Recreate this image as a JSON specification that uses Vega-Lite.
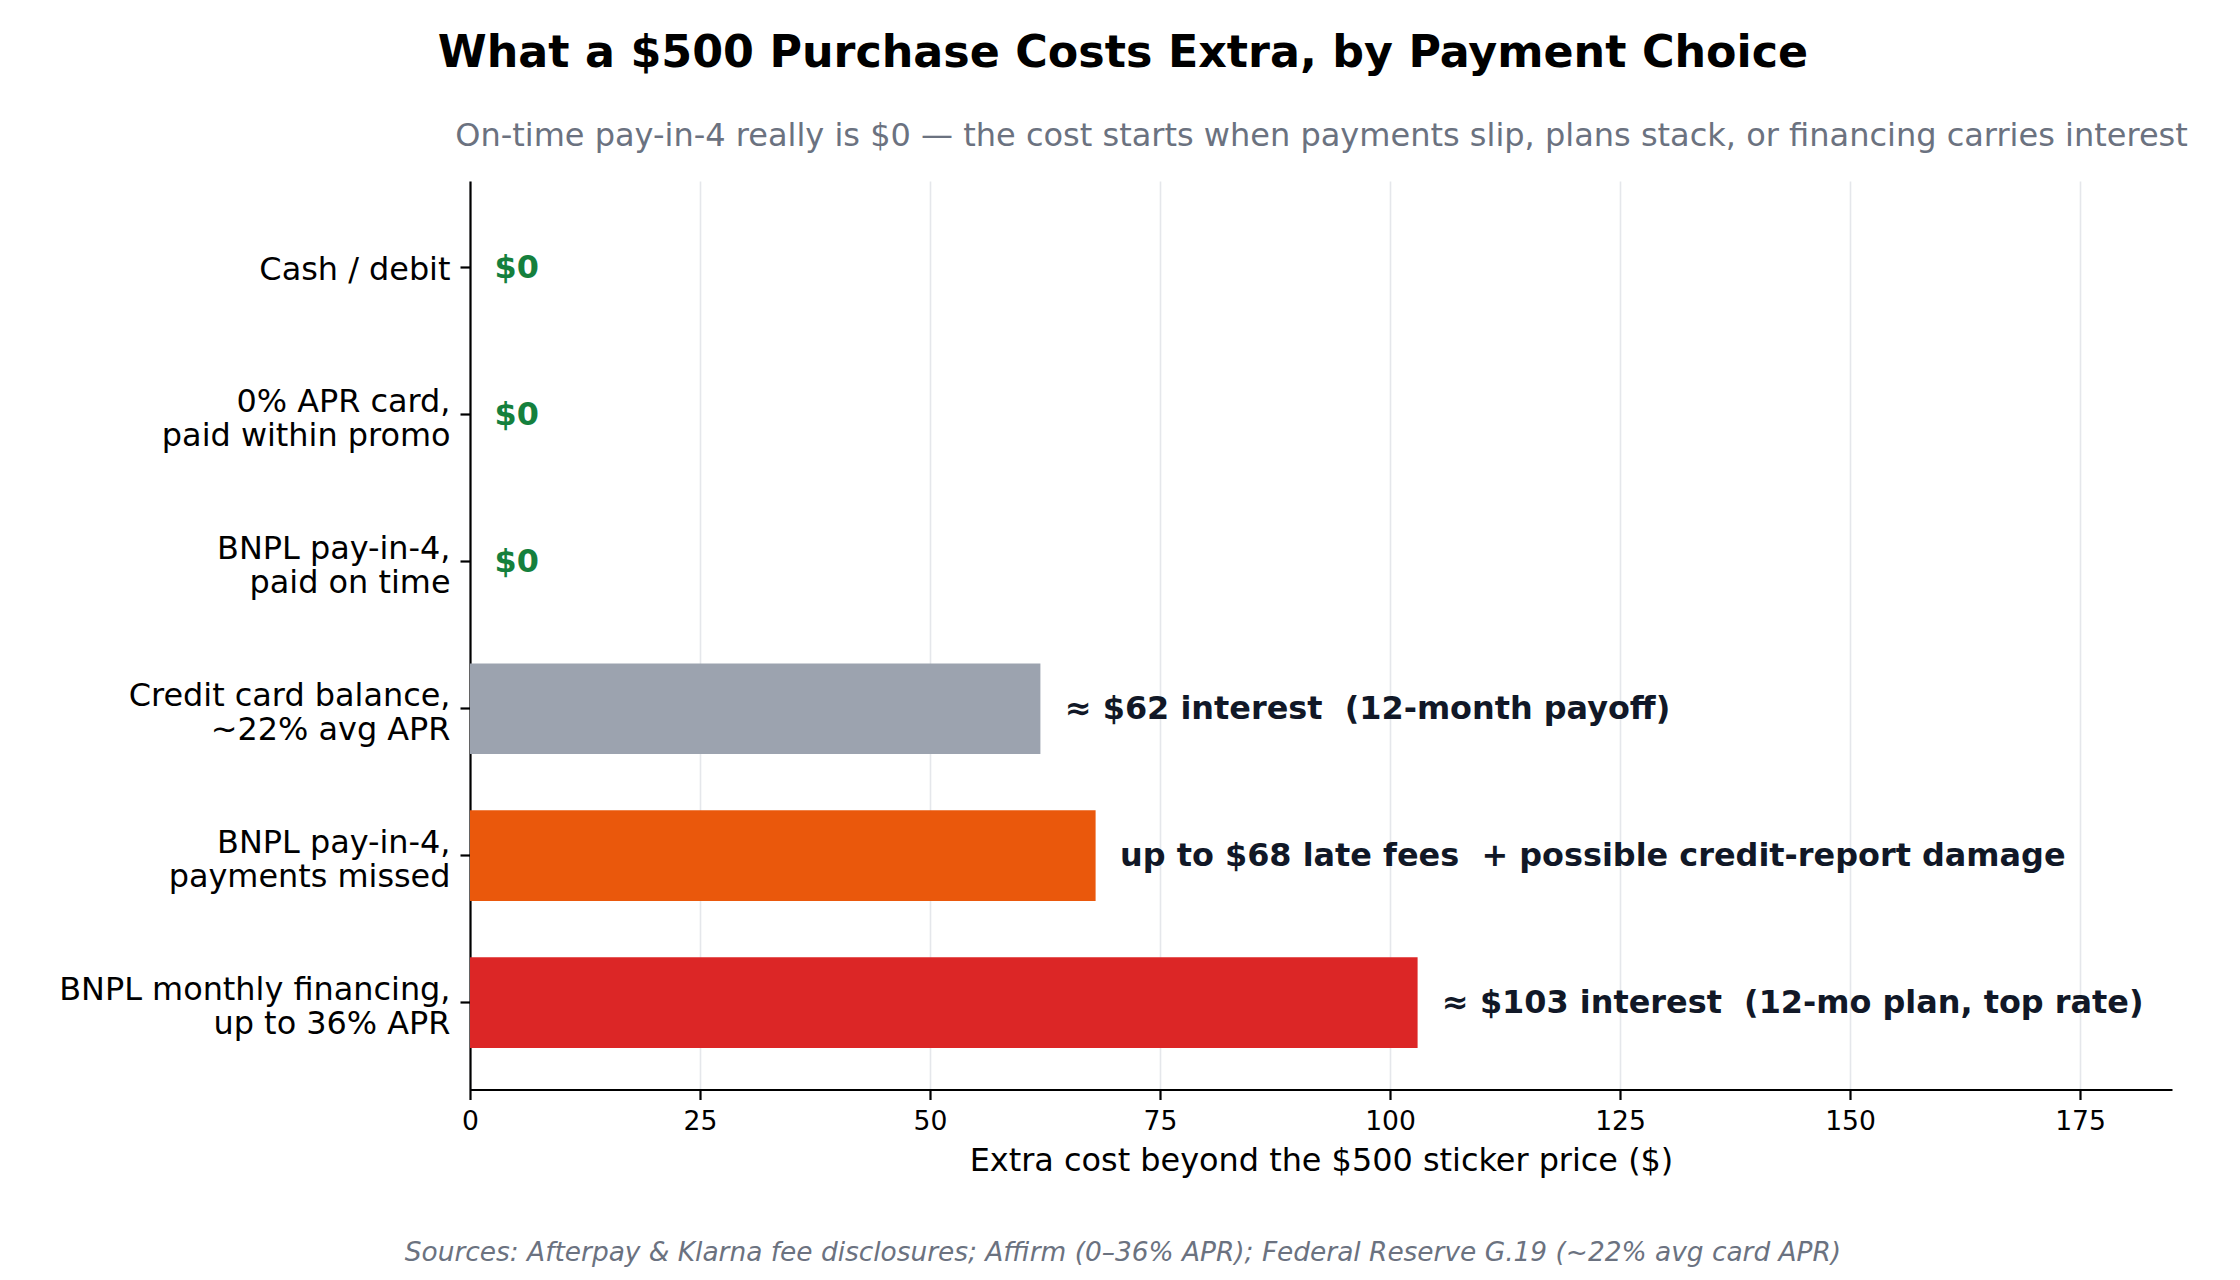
{
  "$schema": "https://vega.github.io/schema/vega-lite/v6.json",
  "padding": {"left": 58, "top": 30, "right": 20, "bottom": 10},
  "background": "white",
  "config": {
    "font": "DejaVu Sans",
    "view": {"stroke": null},
    "concat": {"spacing": 0}
  },
  "title": {
    "text": "What a $500 Purchase Costs Extra, by Payment Choice",
    "fontSize": 44.4,
    "fontWeight": "bold",
    "color": "#000000",
    "anchor": "middle",
    "frame": "bounds",
    "offset": 43
  },
  "datasets": {
    "costs": [
      {"method": "Cash / debit", "cost": 0, "note": "$0"},
      {"method": "0% APR card,\npaid within promo", "cost": 0, "note": "$0"},
      {"method": "BNPL pay-in-4,\npaid on time", "cost": 0, "note": "$0"},
      {"method": "Credit card balance,\n~22% avg APR", "cost": 62, "note": "≈ $62 interest\u00a0 (12-month payoff)"},
      {"method": "BNPL pay-in-4,\npayments missed", "cost": 68, "note": "up to $68 late fees\u00a0 + possible credit-report damage"},
      {"method": "BNPL monthly financing,\nup to 36% APR", "cost": 103, "note": "≈ $103 interest\u00a0 (12-mo plan, top rate)"}
    ]
  },
  "vconcat": [
    {
      "width": 1702,
      "height": 908.5,
      "title": {
        "text": "Sources: Afterpay & Klarna fee disclosures; Affirm (0–36% APR); Federal Reserve G.19 (~22% avg card APR)",
        "orient": "bottom",
        "fontSize": 26.4,
        "fontStyle": "italic",
        "fontWeight": "normal",
        "color": "#6b7280",
        "anchor": "middle",
        "frame": "bounds",
        "offset": 63
      },
      "data": {"name": "costs"},
      "encoding": {
        "y": {
          "field": "method",
          "type": "nominal",
          "sort": null,
          "scale": {"paddingInner": 0.383, "paddingOuter": 0.2825},
          "axis": {
            "title": null,
            "labelExpr": "split(datum.label, '\\n')",
            "labelFontSize": 31.9,
            "labelColor": "#000000",
            "labelLimit": 0,
            "labelLineHeight": 34,
            "labelOffset": {
              "condition": {"test": "indexof(datum.label, '\\n') >= 0", "value": -13},
              "value": 2
            },
            "labelPadding": 10,
            "tickSize": 10,
            "tickWidth": 2.2,
            "tickColor": "#000000",
            "domainColor": "#000000",
            "domainWidth": 2.2,
            "grid": false
          }
        }
      },
      "layer": [
        {
          "mark": {"type": "bar"},
          "encoding": {
            "x": {
              "field": "cost",
              "type": "quantitative",
              "scale": {"domain": [0, 185], "nice": false, "zero": true},
              "axis": {
                "orient": "bottom",
                "title": "Extra cost beyond the $500 sticker price ($)",
                "titleFontSize": 31.9,
                "titleFontWeight": "normal",
                "titleColor": "#000000",
                "titlePadding": 11,
                "values": [0, 25, 50, 75, 100, 125, 150, 175],
                "labelFontSize": 26.6,
                "labelColor": "#000000",
                "labelPadding": 8.5,
                "labelFlush": false,
                "labelOverlap": false,
                "tickSize": 10,
                "tickWidth": 2.2,
                "tickColor": "#000000",
                "domainColor": "#000000",
                "domainWidth": 2.2,
                "grid": true,
                "gridColor": "#e5e7eb",
                "gridWidth": 1.6
              }
            },
            "color": {
              "field": "method",
              "type": "nominal",
              "sort": null,
              "scale": {
                "domain": [
                  "Cash / debit",
                  "0% APR card,\npaid within promo",
                  "BNPL pay-in-4,\npaid on time",
                  "Credit card balance,\n~22% avg APR",
                  "BNPL pay-in-4,\npayments missed",
                  "BNPL monthly financing,\nup to 36% APR"
                ],
                "range": ["#15803d", "#15803d", "#15803d", "#9ca3af", "#ea580c", "#dc2626"]
              },
              "legend": null
            }
          }
        },
        {
          "mark": {
            "type": "text",
            "align": "left",
            "baseline": "middle",
            "dx": 24.5,
            "fontSize": 31.9,
            "fontWeight": "bold"
          },
          "encoding": {
            "x": {
              "field": "cost",
              "type": "quantitative",
              "scale": {"domain": [0, 185], "nice": false, "zero": true},
              "axis": {
                "orient": "top",
                "title": "On-time pay-in-4 really is $0 — the cost starts when payments slip, plans stack, or financing carries interest",
                "titleFontSize": 32,
                "titleFontWeight": "normal",
                "titleColor": "#6b7280",
                "titlePadding": 29,
                "labels": false,
                "ticks": false,
                "domain": false,
                "grid": false
              }
            },
            "text": {"field": "note", "type": "nominal"},
            "color": {
              "condition": {"test": "datum.cost == 0", "value": "#15803d"},
              "value": "#111827"
            }
          }
        }
      ],
      "resolve": {"axis": {"x": "independent"}}
    }
  ]
}
